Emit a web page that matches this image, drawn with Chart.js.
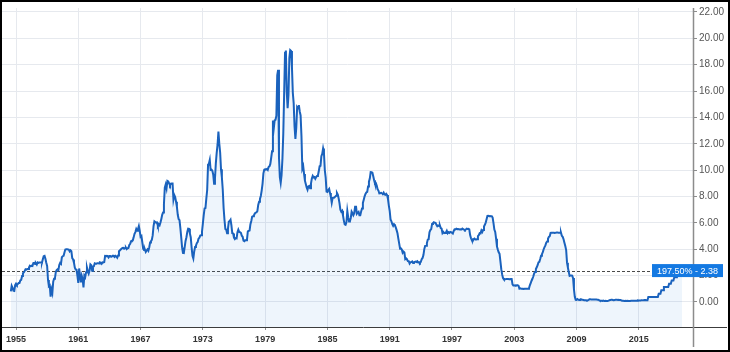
<!DOCTYPE html>
<html>
<head>
<meta charset="utf-8">
<script src="https://cdn.jsdelivr.net/npm/chart.js@4.4.1/dist/chart.umd.min.js"></script>
<style>
    html, body { margin: 0; padding: 0; background: #ffffff; }
    #wrap { width: 730px; height: 352px; position: relative; }
</style>
</head>
<body>
<div id="wrap"><canvas id="rateChart" width="730" height="352"></canvas></div>
<script>
// Monthly rate (%) - first series starts Jul 1954, the rest start in January
const START_1950S = 1954.5;
const rates1950s = [
    0.80, 1.22, 1.07, 0.85, 0.83, 1.28,
    1.39, 1.29, 1.35, 1.43, 1.43, 1.64, 1.68, 1.96, 2.18, 2.24, 2.35, 2.48,
    2.45, 2.50, 2.50, 2.62, 2.75, 2.71, 2.75, 2.73, 2.95, 2.96, 2.88, 2.94,
    2.84, 3.00, 2.96, 3.00, 3.00, 3.00, 2.99, 3.24, 3.47, 3.50, 3.28, 2.98,
    2.72, 1.67, 1.20, 1.26, 0.40, 0.93, 0.68, 1.53, 1.76, 1.80, 2.27, 2.42,
    2.48, 2.43, 2.80, 2.96, 2.90, 3.39, 3.47, 3.50, 3.76, 3.98, 4.00, 3.99
];
const rates1960s = [
    3.99, 3.97, 3.84, 3.92, 3.85, 3.32, 3.23, 2.98, 2.60, 2.47, 2.44, 1.98,
    1.45, 2.54, 2.02, 1.49, 1.98, 1.73, 1.10, 2.00, 1.88, 2.26, 2.61, 2.33,
    2.15, 2.37, 2.85, 2.78, 2.36, 2.68, 2.71, 2.93, 2.90, 2.90, 2.94, 2.93,
    2.92, 3.00, 2.98, 2.90, 3.00, 2.99, 3.02, 3.49, 3.48, 3.50, 3.48, 3.38,
    3.48, 3.48, 3.43, 3.47, 3.50, 3.50, 3.42, 3.50, 3.45, 3.36, 3.52, 3.85,
    3.90, 3.98, 4.04, 4.09, 4.10, 4.04, 4.09, 4.12, 4.01, 4.08, 4.10, 4.32,
    4.42, 4.60, 4.65, 4.67, 4.90, 5.17, 5.30, 5.53, 5.40, 5.53, 5.76, 5.40,
    4.94, 5.00, 4.53, 4.05, 3.94, 3.98, 3.79, 3.90, 3.99, 3.88, 4.13, 4.51,
    4.60, 4.71, 5.05, 5.76, 6.12, 6.07, 6.02, 6.03, 5.78, 5.91, 5.82, 6.02,
    6.30, 6.61, 6.79, 7.41, 8.67, 8.90, 8.61, 9.19, 9.15, 9.00, 8.85, 8.97
];
const rates1970s = [
    8.98, 8.98, 7.76, 8.10, 7.95, 7.61, 7.21, 6.61, 6.29, 6.20, 5.60, 4.90,
    4.14, 3.72, 3.71, 4.16, 4.63, 4.91, 5.31, 5.56, 5.55, 5.20, 4.91, 4.14,
    3.50, 3.29, 3.83, 4.17, 4.27, 4.46, 4.55, 4.80, 4.87, 5.04, 5.06, 5.33,
    5.94, 6.58, 7.09, 7.12, 7.84, 8.49, 10.40, 10.50, 10.78, 10.01, 10.03, 9.95,
    9.65, 8.97, 9.35, 10.51, 11.31, 11.93, 12.92, 12.01, 11.34, 10.06, 9.45, 8.53,
    7.13, 6.24, 5.54, 5.49, 5.22, 5.55, 6.10, 6.14, 6.24, 5.82, 5.22, 5.20,
    4.87, 4.77, 4.84, 4.82, 5.29, 5.48, 5.31, 5.29, 5.25, 5.02, 4.95, 4.65,
    4.61, 4.68, 4.69, 4.73, 5.35, 5.39, 5.42, 5.90, 6.14, 6.47, 6.51, 6.56,
    6.70, 6.78, 6.79, 6.89, 7.36, 7.60, 7.81, 8.04, 8.45, 8.96, 9.76, 10.03,
    10.07, 10.06, 10.09, 10.01, 10.24, 10.29, 10.47, 10.94, 11.43, 13.77, 13.18, 13.78
];
const rates1980s = [
    13.82, 14.13, 17.19, 17.61, 10.98, 9.47, 9.03, 9.61, 10.87, 12.81, 15.85, 18.90,
    19.08, 15.93, 14.70, 15.72, 18.52, 19.10, 19.04, 17.82, 15.87, 15.08, 13.31, 12.37,
    13.22, 14.78, 14.68, 14.94, 14.45, 14.15, 12.59, 10.12, 10.31, 9.71, 9.20, 8.95,
    8.68, 8.51, 8.77, 8.80, 8.63, 8.98, 9.37, 9.56, 9.45, 9.48, 9.34, 9.47,
    9.56, 9.59, 9.91, 10.29, 10.32, 11.06, 11.23, 11.64, 11.30, 9.99, 9.43, 8.38,
    8.35, 8.50, 8.58, 8.27, 7.97, 7.53, 7.88, 7.90, 7.92, 7.99, 8.05, 8.27,
    8.14, 7.86, 7.48, 6.99, 6.85, 6.92, 6.56, 6.17, 5.89, 5.85, 6.04, 6.91,
    6.43, 6.10, 6.13, 6.37, 6.85, 6.73, 6.58, 6.73, 7.22, 7.29, 6.69, 6.77,
    6.83, 6.58, 6.58, 6.87, 7.09, 7.51, 7.75, 8.01, 8.19, 8.30, 8.35, 8.76,
    9.12, 9.36, 9.85, 9.84, 9.81, 9.53, 9.24, 8.99, 9.02, 8.84, 8.55, 8.45
];
const rates1990s = [
    8.23, 8.24, 8.28, 8.26, 8.18, 8.29, 8.15, 8.13, 8.20, 8.11, 7.81, 7.31,
    6.91, 6.25, 6.12, 5.91, 5.78, 5.90, 5.82, 5.66, 5.45, 5.21, 4.81, 4.43,
    4.03, 4.06, 3.98, 3.73, 3.82, 3.76, 3.25, 3.30, 3.22, 3.10, 3.09, 2.92,
    3.02, 3.03, 3.07, 2.96, 3.00, 3.04, 3.06, 3.03, 3.09, 2.99, 3.02, 2.96,
    3.05, 3.25, 3.34, 3.56, 4.01, 4.25, 4.26, 4.47, 4.73, 4.76, 5.29, 5.45,
    5.53, 5.92, 5.98, 6.05, 6.01, 6.00, 5.85, 5.74, 5.80, 5.76, 5.80, 5.60,
    5.56, 5.22, 5.31, 5.22, 5.24, 5.27, 5.40, 5.22, 5.30, 5.24, 5.31, 5.29,
    5.25, 5.19, 5.39, 5.51, 5.50, 5.56, 5.52, 5.54, 5.54, 5.50, 5.52, 5.50,
    5.56, 5.51, 5.49, 5.45, 5.49, 5.56, 5.54, 5.55, 5.51, 5.07, 4.83, 4.68,
    4.63, 4.76, 4.81, 4.74, 4.74, 4.76, 4.99, 5.07, 5.22, 5.20, 5.42, 5.30
];
const rates2000s = [
    5.45, 5.73, 5.85, 6.02, 6.27, 6.53, 6.54, 6.50, 6.52, 6.51, 6.51, 6.40,
    5.98, 5.49, 5.31, 4.80, 4.21, 3.97, 3.77, 3.65, 3.07, 2.49, 2.09, 1.82,
    1.73, 1.74, 1.73, 1.75, 1.75, 1.75, 1.73, 1.74, 1.75, 1.75, 1.34, 1.24,
    1.24, 1.26, 1.25, 1.26, 1.26, 1.22, 1.01, 1.03, 1.01, 1.01, 1.00, 0.98,
    1.00, 1.01, 1.00, 1.00, 1.00, 1.03, 1.26, 1.43, 1.61, 1.76, 1.93, 2.16,
    2.28, 2.50, 2.63, 2.79, 3.00, 3.04, 3.26, 3.50, 3.62, 3.78, 4.00, 4.16,
    4.29, 4.49, 4.59, 4.79, 4.94, 4.99, 5.24, 5.25, 5.25, 5.25, 5.25, 5.24,
    5.25, 5.26, 5.26, 5.25, 5.25, 5.25, 5.26, 5.02, 4.94, 4.76, 4.49, 4.24,
    3.94, 2.98, 2.61, 2.28, 1.98, 2.00, 2.01, 2.00, 1.81, 0.97, 0.39, 0.16,
    0.15, 0.22, 0.18, 0.15, 0.18, 0.21, 0.16, 0.16, 0.15, 0.12, 0.12, 0.12
];
const rates2010s = [
    0.11, 0.13, 0.16, 0.20, 0.20, 0.18, 0.18, 0.19, 0.19, 0.19, 0.19, 0.18,
    0.17, 0.16, 0.14, 0.10, 0.09, 0.09, 0.07, 0.10, 0.08, 0.07, 0.08, 0.07,
    0.08, 0.10, 0.13, 0.14, 0.16, 0.16, 0.16, 0.13, 0.14, 0.16, 0.16, 0.16,
    0.14, 0.15, 0.14, 0.15, 0.11, 0.09, 0.09, 0.08, 0.08, 0.09, 0.08, 0.09,
    0.07, 0.07, 0.08, 0.09, 0.09, 0.10, 0.09, 0.09, 0.09, 0.09, 0.09, 0.12,
    0.11, 0.11, 0.11, 0.12, 0.12, 0.13, 0.13, 0.14, 0.14, 0.12, 0.12, 0.38,
    0.38, 0.38, 0.38, 0.38, 0.38, 0.38, 0.38, 0.38, 0.38, 0.38, 0.38, 0.63,
    0.63, 0.63, 0.88, 0.88, 0.88, 1.13, 1.13, 1.13, 1.13, 1.13, 1.13, 1.38,
    1.38, 1.38, 1.63, 1.63, 1.63, 1.88, 1.88, 1.88, 2.13, 2.13, 2.13, 2.38,
    2.38, 2.38, 2.38
];

// Axis ticks and the last-value label
const X_TICKS = [1955, 1961, 1967, 1973, 1979, 1985, 1991, 1997, 2003, 2009, 2015];
const Y_TICKS = [0, 2, 4, 6, 8, 10, 12, 14, 16, 18, 20, 22];
const LAST_VALUE = 2.38;
const LAST_CHANGE = '197.50%';

const COLORS = {
    line: '#1a62bd',
    fill: 'rgba(40, 130, 220, 0.08)',
    grid: '#e6e9ee',
    axis: '#8c8c8c',
    tickText: '#555555',
    yearText: '#333333',
    badge: '#1479e2'
};

// Turn the monthly lists into {x, y} points
function toPoints(start, values) {
    return values.map((v, i) => ({ x: start + i / 12, y: v }));
}

const points = [
    ...toPoints(START_1950S, rates1950s),
    ...toPoints(1960, rates1960s),
    ...toPoints(1970, rates1970s),
    ...toPoints(1980, rates1980s),
    ...toPoints(1990, rates1990s),
    ...toPoints(2000, rates2000s),
    ...toPoints(2010, rates2010s)
];

// Frame, axis lines, dashed last-value line and badge
const decorations = {
    id: 'decorations',
    beforeDatasetsDraw(chart) {
        const { ctx, chartArea, scales } = chart;
        const yv = Math.round(scales.y.getPixelForValue(LAST_VALUE)) + 0.5;
        ctx.save();
        ctx.strokeStyle = '#4a4a4a';
        ctx.lineWidth = 1;
        ctx.setLineDash([3, 2]);
        ctx.beginPath();
        ctx.moveTo(chartArea.left, yv);
        ctx.lineTo(chartArea.right, yv);
        ctx.stroke();
        ctx.restore();
    },
    afterDraw(chart) {
        const { ctx, chartArea, scales, width, height } = chart;
        ctx.save();

        // x axis line
        ctx.strokeStyle = '#3c3c3c';
        ctx.lineWidth = 1;
        ctx.beginPath();
        ctx.moveTo(0, chartArea.bottom + 0.5);
        ctx.lineTo(width - 3, chartArea.bottom + 0.5);
        ctx.stroke();

        // y axis line
        ctx.strokeStyle = COLORS.axis;
        ctx.lineWidth = 1.5;
        ctx.beginPath();
        ctx.moveTo(chartArea.right + 0.5, chartArea.top);
        ctx.lineTo(chartArea.right + 0.5, height - 5);
        ctx.stroke();

        // last value badge
        const yv = scales.y.getPixelForValue(LAST_VALUE);
        const bx = chartArea.right - 41;
        ctx.fillStyle = COLORS.badge;
        ctx.fillRect(bx, yv - 6.5, 71, 13);
        ctx.fillStyle = '#ffffff';
        ctx.font = '9px "Liberation Sans", Arial, sans-serif';
        ctx.textBaseline = 'middle';
        ctx.textAlign = 'left';
        ctx.fillText(LAST_CHANGE, bx + 5, yv + 0.5);
        ctx.fillText('- ' + LAST_VALUE.toFixed(2), chartArea.right + 2, yv + 0.5);

        // outer frame
        ctx.strokeStyle = '#000000';
        ctx.lineWidth = 2;
        ctx.strokeRect(1, 1, width - 2, height - 2);
        ctx.restore();
    }
};

const ctx = document.getElementById('rateChart').getContext('2d');

new Chart(ctx, {
    type: 'line',
    data: {
        datasets: [{
            data: points,
            borderColor: COLORS.line,
            backgroundColor: COLORS.fill,
            borderWidth: 2,
            fill: 'start',
            tension: 0,
            pointRadius: 0
        }]
    },
    options: {
        responsive: false,
        animation: false,
        layout: {
            padding: { left: 2, top: 8, right: 0, bottom: 0 }
        },
        plugins: {
            legend: { display: false },
            tooltip: { enabled: false }
        },
        scales: {
            x: {
                type: 'linear',
                min: 1953.65,
                max: 2020.22,
                afterBuildTicks: (scale) => {
                    scale.ticks = X_TICKS.map(v => ({ value: v }));
                },
                afterFit: (scale) => { scale.height = 25; },
                grid: {
                    color: COLORS.grid,
                    tickColor: COLORS.axis,
                    tickLength: 3
                },
                border: { display: false },
                ticks: {
                    autoSkip: false,
                    maxRotation: 0,
                    padding: 4,
                    color: COLORS.yearText,
                    font: { family: '"Liberation Sans", Arial, sans-serif', size: 9, weight: 'bold' },
                    callback: (v) => String(v)
                }
            },
            y: {
                position: 'right',
                min: -1.9,
                max: 22.3,
                afterBuildTicks: (scale) => {
                    scale.ticks = Y_TICKS.map(v => ({ value: v }));
                },
                afterFit: (scale) => { scale.width = 37; },
                grid: {
                    color: COLORS.grid,
                    tickColor: COLORS.axis,
                    tickLength: 4
                },
                border: { display: false },
                ticks: {
                    padding: 2,
                    color: COLORS.tickText,
                    font: { family: '"Liberation Sans", Arial, sans-serif', size: 10 },
                    callback: (v) => v.toFixed(2)
                }
            }
        }
    },
    plugins: [decorations]
});
</script>
</body>
</html>
